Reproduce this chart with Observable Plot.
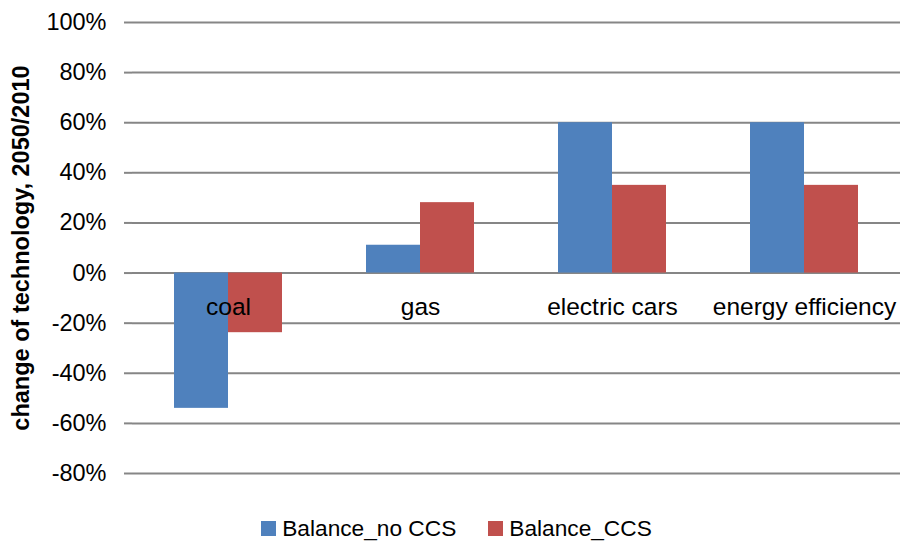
<!DOCTYPE html>
<html>
<head>
<meta charset="utf-8">
<script src="https://cdn.jsdelivr.net/npm/d3@7"></script>
<script src="https://cdn.jsdelivr.net/npm/@observablehq/plot@0.6"></script>
<style>
  html, body { margin: 0; padding: 0; background: #fff; }
  body { width: 901px; height: 543px; overflow: hidden; font-family: "Liberation Sans", Arial, sans-serif; }
  #legend { height: 43px; display: flex; justify-content: center; align-items: flex-start; padding-top: 16px; box-sizing: border-box; font-size: 22.7px; color: #000; padding-left: 12px; }
  #legend .item { display: flex; align-items: center; margin: 0 16px; line-height: 24px; }
  #legend .sw { width: 15px; height: 15px; margin-right: 6px; }
</style>
</head>
<body>
<div id="chart"></div>
<div id="legend"></div>
<script>
const categories = ["coal", "gas", "electric cars", "energy efficiency"];
const series = ["Balance_no CCS", "Balance_CCS"];
const noCCS = [-0.54, 0.111, 0.60, 0.60];
const withCCS = [-0.238, 0.281, 0.35, 0.35];
const yTicks = [-0.8, -0.6, -0.4, -0.2, 0, 0.2, 0.4, 0.6, 0.8, 1.0];
const colors = ["#4F81BD", "#C0504D"];
const yLabel = "change of technology, 2050/2010";

const W = 901, H = 500, ML = 131;
const gridColor = "#868686";

const rows = categories.flatMap((c, i) => [
  {category: c, series: series[0], value: noCCS[i]},
  {category: c, series: series[1], value: withCCS[i]}
]);

const facetHalf = (W - ML) / categories.length / 2;
const fmt = d => Math.round(d * 100) + "%";

const chart = Plot.plot({
  width: W,
  height: H,
  marginLeft: ML,
  marginRight: 0,
  marginTop: 22,
  marginBottom: 27,
  style: {fontFamily: "'Liberation Sans', Arial, sans-serif", fontSize: "23.5px", color: "#000", background: "#fff"},
  fx: {domain: categories, padding: 0, axis: null},
  x: {domain: series, paddingInner: 0, paddingOuter: 0.757, axis: null},
  y: {domain: [-0.8, 1.0], axis: null},
  color: {domain: series, range: colors},
  marks: [
    Plot.gridY(yTicks, {stroke: gridColor, strokeOpacity: 1, strokeWidth: 2}),
    Plot.axisY({ticks: yTicks, tickFormat: fmt, tickSize: 8, tickPadding: 18, stroke: gridColor, strokeWidth: 2, fill: "#000", fontSize: 23.5, label: null}),
    Plot.axisY({ticks: [], tickSize: 0, label: yLabel, labelAnchor: "center", labelOffset: 120, labelArrow: "none", fontWeight: "bold", fontSize: 23.5, fill: "#000"}),
    Plot.ruleX([categories[0]], {fx: d => d, y1: -0.8, y2: 1.0, dx: -facetHalf, stroke: gridColor, strokeWidth: 2}),
    Plot.ruleX(categories.slice(1), {fx: d => d, y1: 0, y2: -0.036, dx: -facetHalf, stroke: gridColor, strokeWidth: 2}),
    Plot.barY(rows, {fx: "category", x: "series", y: "value", fill: "series"}),
    Plot.text(categories, {fx: d => d, y: d => 0, text: d => d, dy: 34.5, fill: "#000", fontSize: 24.5})
  ]
});
document.getElementById("chart").appendChild(chart);

const legend = document.getElementById("legend");
series.forEach((s, i) => {
  const item = document.createElement("div");
  item.className = "item";
  const sw = document.createElement("span");
  sw.className = "sw";
  sw.style.background = colors[i];
  const t = document.createElement("span");
  t.textContent = s;
  item.appendChild(sw);
  item.appendChild(t);
  legend.appendChild(item);
});
</script>
</body>
</html>
